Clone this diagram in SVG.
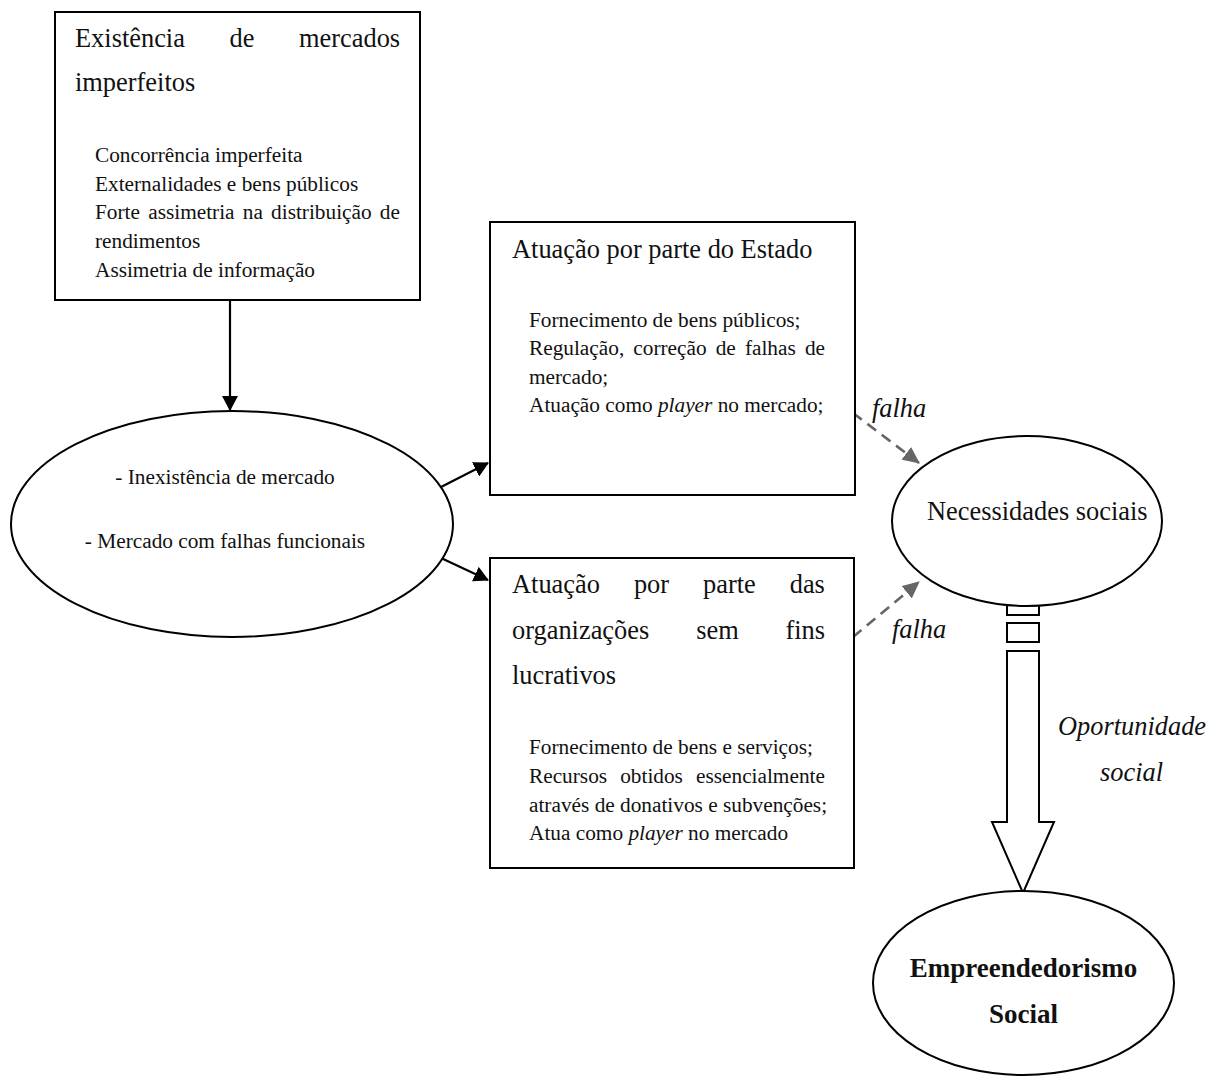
<svg xmlns="http://www.w3.org/2000/svg" width="1219" height="1080" viewBox="0 0 1219 1080">
  <style>
    .shape { fill: #fff; stroke: #000; stroke-width: 2; }
    .t { font-family: "Liberation Serif", "Times New Roman", serif; fill: #111; }
    .big { font-size: 26.4px; }
    .sm { font-size: 21.3px; }
    .it { font-style: italic; }
    .bold { font-weight: bold; font-size: 27px; }
    .solid { stroke: #000; stroke-width: 2.2; fill: none; }
    .dash { stroke: #666; stroke-width: 2.6; fill: none; stroke-dasharray: 11 7; }
  </style>
  <defs>
    <marker id="head" markerUnits="userSpaceOnUse" markerWidth="16" markerHeight="16" refX="14" refY="8" orient="auto">
      <path d="M0,0 L15,8 L0,16 z" fill="#000"/>
    </marker>
    <marker id="headGray" markerUnits="userSpaceOnUse" markerWidth="18" markerHeight="16" refX="16" refY="8" orient="auto">
      <path d="M0,0 L17,8 L0,16 z" fill="#666"/>
    </marker>
  </defs>
  <rect width="1219" height="1080" fill="#fff"/>

  <!-- connectors -->
  <g id="connectors">
    <line class="solid" x1="230" y1="300" x2="230" y2="410" marker-end="url(#head)"/>
    <line class="solid" x1="441" y1="487" x2="488" y2="463" marker-end="url(#head)"/>
    <line class="solid" x1="441" y1="558" x2="488" y2="580" marker-end="url(#head)"/>
    <line class="dash" x1="853" y1="413" x2="919" y2="463" marker-end="url(#headGray)"/>
    <line class="dash" x1="853" y1="637" x2="919" y2="582" marker-end="url(#headGray)"/>
    <text class="t big it" x="872" y="417">falha</text>
    <text class="t big it" x="892" y="638">falha</text>
    <!-- broad hollow arrow: two short segments then shaft with head -->
    <rect class="shape" x="1007" y="600" width="32" height="15"/>
    <rect class="shape" x="1007" y="623" width="32" height="19"/>
    <polygon class="shape" points="1007,651 1039,651 1039,822 1054,822 1023,893 992,822 1007,822"/>
    <text class="t big it" x="1058" y="735">Oportunidade</text>
    <text class="t big it" x="1100" y="781">social</text>
  </g>

  <!-- imperfect markets box -->
  <g id="mercados-imperfeitos">
    <rect class="shape" x="55" y="12" width="365" height="288"/>
    <text class="t big" y="47"><tspan x="75">Existência</tspan><tspan x="229.5">de</tspan><tspan x="299">mercados</tspan></text>
    <text class="t big" x="75" y="91">imperfeitos</text>
    <text class="t sm" x="95" y="162">Concorrência imperfeita</text>
    <text class="t sm" x="95" y="190.7">Externalidades e bens públicos</text>
    <text class="t sm" y="219.4"><tspan x="95">Forte</tspan><tspan x="148.2">assimetria</tspan><tspan x="242.8">na</tspan><tspan x="271.1">distribuição</tspan><tspan x="379.8">de</tspan></text>
    <text class="t sm" x="95" y="248">rendimentos</text>
    <text class="t sm" x="95" y="276.7">Assimetria de informação</text>
  </g>

  <!-- market failure ellipse -->
  <g id="falhas-mercado">
    <ellipse class="shape" cx="232" cy="524" rx="221" ry="113"/>
    <text class="t sm" x="225" y="484" text-anchor="middle">- Inexistência de mercado</text>
    <text class="t sm" x="225" y="548" text-anchor="middle">- Mercado com falhas funcionais</text>
  </g>

  <!-- state action box -->
  <g id="atuacao-estado">
    <rect class="shape" x="490" y="222" width="365" height="273"/>
    <text class="t big" x="512" y="258">Atuação por parte do Estado</text>
    <text class="t sm" x="529" y="326.5">Fornecimento de bens públicos;</text>
    <text class="t sm" y="355"><tspan x="529">Regulação,</tspan><tspan x="633.3">correção</tspan><tspan x="715.7">de</tspan><tspan x="744.9">falhas</tspan><tspan x="804.9">de</tspan></text>
    <text class="t sm" x="529" y="383.5">mercado;</text>
    <text class="t sm" x="529" y="412">Atuação como <tspan class="it">player</tspan> no mercado;</text>
  </g>

  <!-- non-profit box -->
  <g id="atuacao-osfl">
    <rect class="shape" x="490" y="558" width="364" height="310"/>
    <text class="t big" y="593"><tspan x="512">Atuação</tspan><tspan x="633.9">por</tspan><tspan x="703">parte</tspan><tspan x="789.7">das</tspan></text>
    <text class="t big" y="638.5"><tspan x="512">organizações</tspan><tspan x="696.3">sem</tspan><tspan x="785.4">fins</tspan></text>
    <text class="t big" x="512" y="684">lucrativos</text>
    <text class="t sm" x="529" y="754">Fornecimento de bens e serviços;</text>
    <text class="t sm" y="783"><tspan x="529">Recursos</tspan><tspan x="620.2">obtidos</tspan><tspan x="696">essencialmente</tspan></text>
    <text class="t sm" x="529" y="811.5">através de donativos e subvenções;</text>
    <text class="t sm" x="529" y="840">Atua como <tspan class="it">player</tspan> no mercado</text>
  </g>

  <!-- social needs ellipse -->
  <g id="necessidades-sociais">
    <ellipse class="shape" cx="1027" cy="521" rx="135" ry="85"/>
    <text class="t big" x="927" y="520">Necessidades sociais</text>
  </g>

  <!-- social entrepreneurship ellipse -->
  <g id="empreendedorismo-social">
    <ellipse class="shape" cx="1023.5" cy="983" rx="150.5" ry="92"/>
    <text class="t bold" x="1023.5" y="977" text-anchor="middle">Empreendedorismo</text>
    <text class="t bold" x="1023.5" y="1023" text-anchor="middle">Social</text>
  </g>
</svg>
